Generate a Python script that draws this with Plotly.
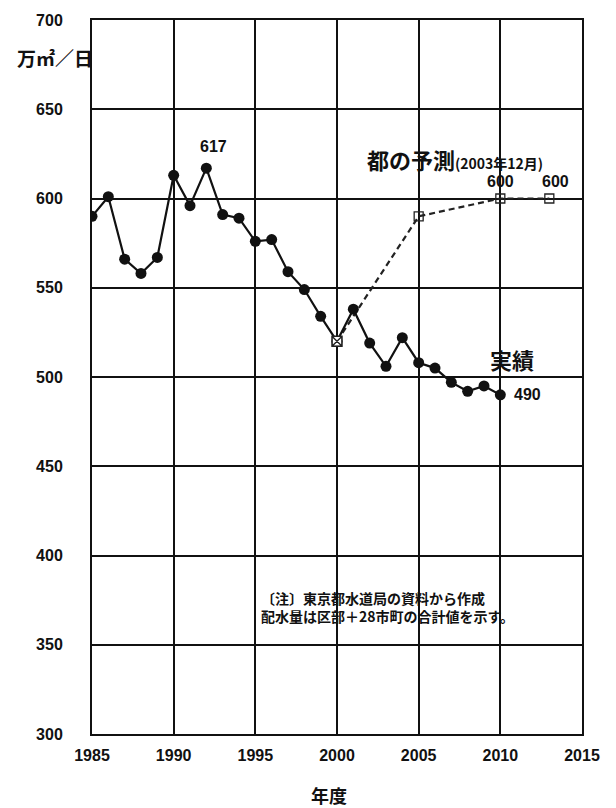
import plotly.graph_objects as go

years_actual = list(range(1985, 2011))
values_actual = [590, 601, 566, 558, 567, 613, 596, 617, 591, 589, 576, 577, 559, 549,
                 534, 520, 538, 519, 506, 522, 508, 505, 497, 492, 495, 490]

years_forecast = [2000, 2005, 2010, 2013]
values_forecast = [520, 590, 600, 600]

x_ticks = [1985, 1990, 1995, 2000, 2005, 2010, 2015]
y_ticks = [300, 350, 400, 450, 500, 550, 600, 650, 700]

JP = "Noto Sans CJK JP"
LAT = "Liberation Sans, Arial, sans-serif"

fig = go.Figure()
fig.add_trace(go.Scatter(
    x=years_forecast, y=values_forecast, mode="lines+markers",
    line=dict(color="#222", width=2.2, dash="6px,4px"),
    marker=dict(symbol="square-open", size=9, color="#222", line=dict(width=1.3, color="#222")),
    showlegend=False, hoverinfo="skip"))
fig.add_trace(go.Scatter(
    x=years_actual, y=values_actual, mode="lines+markers",
    line=dict(color="#111", width=2.2),
    marker=dict(symbol="circle", size=11, color="#111"),
    showlegend=False))
# 2000 point: white square with an X over the circle (shared by both series)
fig.add_trace(go.Scatter(
    x=[years_forecast[0]], y=[values_forecast[0]], mode="markers",
    marker=dict(symbol="square", size=9, color="white"),
    showlegend=False, hoverinfo="skip"))
fig.add_trace(go.Scatter(
    x=[years_forecast[0]], y=[values_forecast[0]], mode="markers",
    marker=dict(symbol="square-x-open", size=10, color="#222",
                line=dict(width=1.4, color="#222")),
    showlegend=False, hoverinfo="skip"))

tickfont = dict(family=LAT, size=16, color="#111", weight="bold")
fig.update_xaxes(range=[1985, 2015], tickvals=x_ticks, ticktext=[str(v) for v in x_ticks],
                 showgrid=True, gridcolor="#111", gridwidth=1.5,
                 showline=True, linecolor="#111", linewidth=2, mirror=True,
                 ticks="", tickfont=tickfont, zeroline=False, ticklabelstandoff=6,
                 automargin=False)
fig.update_yaxes(range=[300, 700], tickvals=y_ticks, ticktext=[str(v) for v in y_ticks],
                 showgrid=True, gridcolor="#111", gridwidth=1.5,
                 showline=True, linecolor="#111", linewidth=2, mirror=True,
                 ticks="", tickfont=tickfont, zeroline=False, ticklabelstandoff=24,
                 automargin=False)

ann = []
def add(x, y, text, size, xanchor="center", yanchor="middle", family=LAT, xshift=0, yshift=0, xref="x", yref="y", align="left"):
    ann.append(dict(x=x, y=y, xref=xref, yref=yref, text=text, showarrow=False,
                    xanchor=xanchor, yanchor=yanchor, xshift=xshift, yshift=yshift, align=align,
                    font=dict(family=family, size=size, color="#111", weight="bold")))

add(1992, 617, "617", 16, xshift=7, yshift=22)
add(2001.7, 622, "都の予測<span style='font-size:14px'>(2003年12月)</span>", 22, xanchor="left", family=JP)
add(2010, 600, "600", 16, yshift=17)
add(2013, 600, "600", 16, xshift=6, yshift=17)
add(2010.7, 510, "実績", 22, family=JP)
add(2010, 490, "490", 16, xanchor="left", xshift=12)
add(1995.2, 371, "〔注〕東京都水道局の資料から作成<br>配水量は区部＋28市町の合計値を示す。", 14,
    xanchor="left", family=JP)
add(15, 57, "万㎡／日", 19, xanchor="left", family=JP, xref="paper", yref="paper")
ann[-1]["x"] = -77 / 490
ann[-1]["y"] = 1 - (57 - 20) / 714
add(1999.5, 795, "年度", 18, family=JP, yref="paper")
ann[-1]["y"] = -(795 - 734) / 714

fig.update_layout(width=616, height=808, margin=dict(l=92, r=34, t=20, b=74, autoexpand=False),
                  plot_bgcolor="white", paper_bgcolor="white", annotations=ann)
fig.write_html("out.html", config={"displayModeBar": False},
               post_script="document.body.style.margin='0';document.body.style.padding='0';document.documentElement.style.overflow='hidden';")
